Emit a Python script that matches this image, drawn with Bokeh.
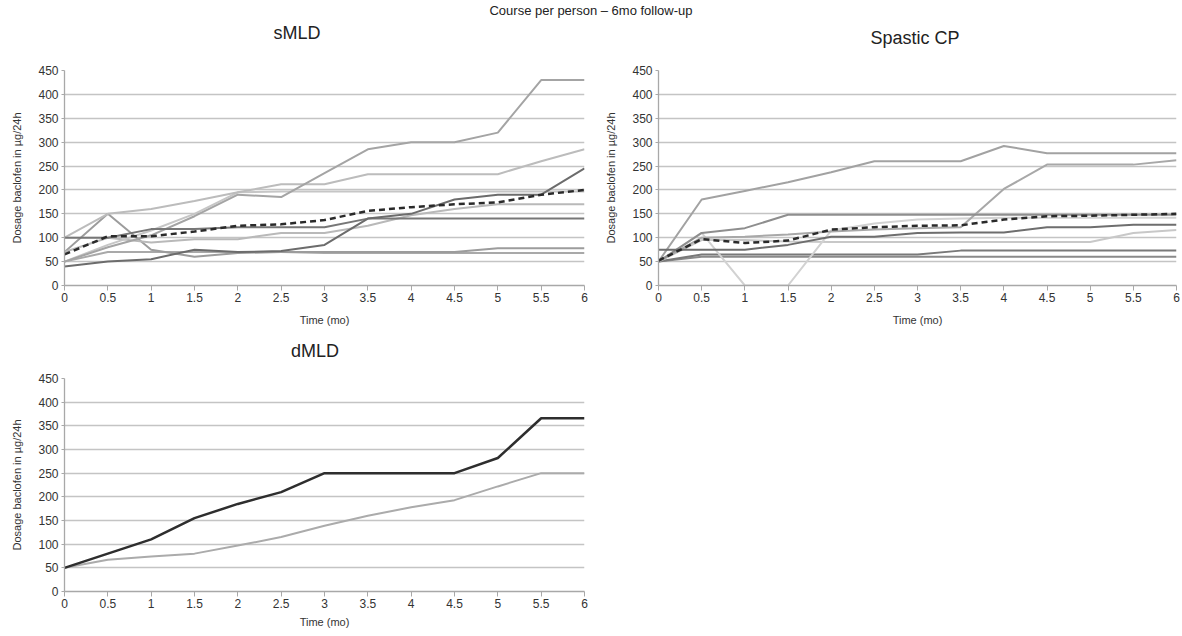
from bokeh.plotting import figure
from bokeh.models import Range1d, FixedTicker, Label, Div
from bokeh.layouts import column, row
from bokeh.embed import file_html
from bokeh.resources import INLINE

# ---------------- data ----------------
months = [0, 0.5, 1, 1.5, 2, 2.5, 3, 3.5, 4, 4.5, 5, 5.5, 6]
x_tick_labels = ["0", "0.5", "1", "1.5", "2", "2.5", "3", "3.5", "4", "4.5", "5", "5.5", "6"]
y_ticks = [0, 50, 100, 150, 200, 250, 300, 350, 400, 450]

# sMLD (individual patients + mean)
smld_1 = [50, 80, 105, 145, 190, 185, 235, 285, 300, 300, 320, 430, 430]
smld_2 = [100, 150, 160, 177, 195, 212, 212, 233, 233, 233, 233, 260, 285]
smld_3 = [50, 85, 115, 150, 195, 197, 197, 197, 197, 197, 197, 197, 197]
smld_4 = [70, 100, 90, 97, 97, 110, 110, 125, 147, 160, 170, 170, 170]
smld_5 = [40, 50, 55, 75, 70, 72, 85, 140, 150, 180, 190, 190, 245]
smld_6 = [100, 100, 118, 118, 122, 122, 122, 140, 140, 140, 140, 140, 140]
smld_7 = [70, 150, 75, 60, 68, 70, 70, 70, 70, 70, 78, 78, 78]
smld_8 = [50, 70, 70, 70, 70, 70, 68, 68, 68, 68, 68, 68, 68]
smld_mean = [65, 103, 103, 113, 125, 128, 137, 156, 164, 170, 174, 190, 200]

# Spastic CP
cp_1 = [50, 180, 198, 216, 237, 260, 260, 260, 292, 277, 277, 277, 277]
cp_2 = [50, 110, 120, 148, 148, 148, 148, 148, 148, 148, 148, 148, 148]
cp_3 = [50, 110, 0, 0, 115, 130, 138, 140, 142, 142, 142, 142, 142]
cp_4 = [75, 75, 75, 85, 102, 102, 110, 111, 111, 122, 122, 127, 127]
cp_5 = [50, 95, 95, 92, 91, 91, 91, 91, 91, 91, 91, 110, 116]
cp_6 = [50, 65, 65, 65, 65, 65, 65, 73, 73, 73, 73, 73, 73]
cp_7 = [50, 60, 60, 60, 60, 60, 60, 60, 60, 60, 60, 60, 60]
cp_8 = [50, 100, 102, 107, 113, 117, 120, 122, 202, 253, 253, 253, 262]
cp_mean = [52, 97, 89, 94, 117, 122, 125, 126, 138, 145, 146, 148, 150]

# dMLD
dmld_1 = [50, 80, 110, 155, 185, 210, 250, 250, 250, 250, 282, 366, 366]
dmld_2 = [50, 67, 74, 80, 97, 115, 139, 160, 178, 193, 222, 250, 250]

main_title = "Course per person – 6mo follow-up"
panel_titles = ["sMLD", "Spastic CP", "dMLD"]

FONT = "Liberation Sans"


def make_panel(series, width, height, mb_left, mb_right, mb_top, mb_bottom, xlabel_standoff=9):
    p = figure(width=width, height=height, output_backend="svg", toolbar_location=None,
               x_range=Range1d(0, 6), y_range=Range1d(0, 450),
               min_border_left=mb_left, min_border_right=mb_right,
               min_border_top=mb_top, min_border_bottom=mb_bottom, margin=(0, 0, 0, 0))
    p.outline_line_color = None
    p.background_fill_color = "white"
    p.border_fill_color = "white"
    p.xgrid.grid_line_color = None
    p.ygrid.grid_line_color = "#c4c4c4"
    p.ygrid.grid_line_width = 1.3
    p.xaxis.ticker = FixedTicker(ticks=months)
    p.xaxis.major_label_overrides = {m: s for m, s in zip(months, x_tick_labels)}
    p.yaxis.ticker = FixedTicker(ticks=y_ticks)
    for ax in (p.xaxis[0], p.yaxis[0]):
        ax.axis_line_color = "#a8a8a8"
        ax.axis_line_width = 1.3
        ax.major_tick_line_color = "#a8a8a8"
        ax.minor_tick_line_color = None
        ax.major_tick_in = 0
        ax.major_label_text_font = FONT
        ax.major_label_text_font_size = "12px"
        ax.major_label_text_color = "#333333"
        ax.axis_label_text_font = FONT
        ax.axis_label_text_font_style = "normal"
        ax.axis_label_text_color = "#333333"
    p.xaxis.major_tick_out = 5
    p.yaxis.major_tick_out = 3
    p.xaxis.major_label_standoff = 2
    p.yaxis.major_label_standoff = 3
    p.xaxis.axis_label = "Time (mo)"
    p.xaxis.axis_label_text_font_size = "11px"
    p.xaxis.axis_label_standoff = xlabel_standoff
    p.yaxis.axis_label = "Dosage baclofen in µg/24h"
    p.yaxis.axis_label_text_font_size = "11px"
    p.yaxis.axis_label_standoff = 12
    for vals, color, w, dash in series:
        p.line(months, vals, line_color=color, line_width=w, line_dash=dash)
    return p


def text_div(txt, width, height, size, line_height):
    return Div(text=txt, width=width, height=height, margin=(0, 0, 0, 0),
               styles={"text-align": "center", "font-family": FONT, "font-size": size,
                       "line-height": line_height, "color": "#222222", "white-space": "nowrap"})


smld_series = [
    (smld_8, "#a9a9a9", 2, "solid"),
    (smld_7, "#9c9c9c", 2, "solid"),
    (smld_4, "#b9b9b9", 2, "solid"),
    (smld_3, "#c6c6c6", 2, "solid"),
    (smld_2, "#bcbcbc", 2, "solid"),
    (smld_1, "#a4a4a4", 2, "solid"),
    (smld_6, "#777777", 2, "solid"),
    (smld_5, "#6c6c6c", 2, "solid"),
    (smld_mean, "#2a2a2a", 2.5, "6 4"),
]
cp_series = [
    (cp_7, "#8a8a8a", 2, "solid"),
    (cp_6, "#797979", 2, "solid"),
    (cp_5, "#c8c8c8", 2, "solid"),
    (cp_3, "#d2d2d2", 2, "solid"),
    (cp_8, "#a8a8a8", 2, "solid"),
    (cp_1, "#a2a2a2", 2, "solid"),
    (cp_2, "#8e8e8e", 2, "solid"),
    (cp_4, "#6e6e6e", 2, "solid"),
    (cp_mean, "#2a2a2a", 2.5, "6 4"),
]
dmld_series = [
    (dmld_2, "#ababab", 2, "solid"),
    (dmld_1, "#2e2e2e", 2.5, "solid"),
]

p1 = make_panel(smld_series, 600, 276, 64, 16, 16, 45)
p2 = make_panel(cp_series, 582, 276, 58, 6, 16, 45)
p3 = make_panel(dmld_series, 600, 258, 64, 16, 6, 37, xlabel_standoff=5)

for p, pts in ((p1, [(197, "*"), (167, "**")]), (p2, [(152, "*"), (137, "*")])):
    for yv, txt in pts:
        p.add_layout(Label(x=6, y=yv, text=txt, x_offset=2, y_offset=-4,
                           text_font=FONT, text_font_size="11px", text_color="#333333"))

title_div = text_div(main_title, 1182, 22, "13px", "22px")
t1 = text_div(panel_titles[0], 594, 32, "18px", "22px")
gap = Div(text="", width=54, height=32, margin=(0, 0, 0, 0))
t2 = text_div(panel_titles[1], 534, 32, "18px", "32px")
t3 = text_div(panel_titles[2], 630, 42, "18px", "42px")

layout = column(title_div, row(t1, gap, t2), row(p1, p2), t3, p3)
open("out.html", "w").write(file_html(layout, INLINE))
